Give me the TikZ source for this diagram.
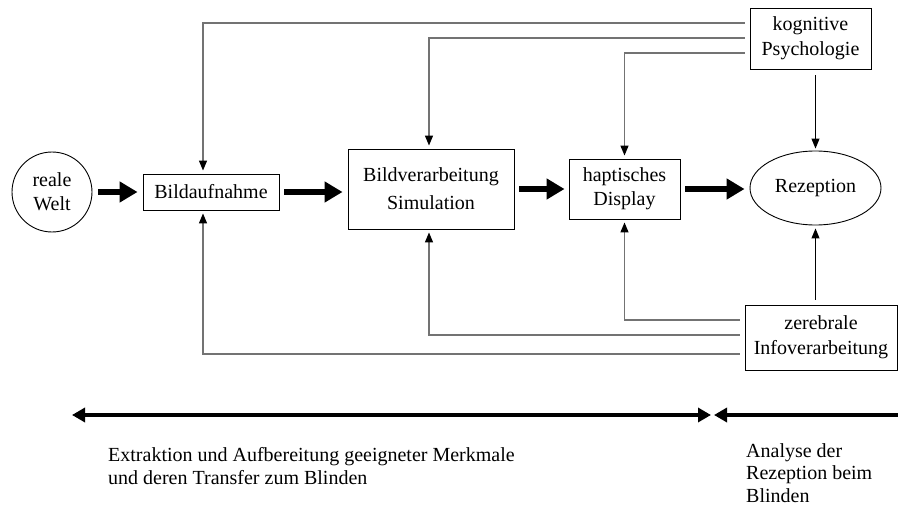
\documentclass[tikz,border=0pt]{standalone}
\usepackage{fontspec}
\setmainfont{Liberation Serif}
\usetikzlibrary{arrows.meta,shapes.geometric}
\begin{document}
\begin{tikzpicture}[x=1pt,y=-1pt,
  every node/.style={font=\fontsize{20}{24}\selectfont},
  box/.style={draw=black, line width=0.9pt, inner sep=0pt, align=center},
  fb/.style={draw=black!55, line width=1.3pt, -{Triangle[length=10pt,width=8pt,color=black]}, shorten >=3pt},
  thin/.style={draw=black, line width=1pt, -{Triangle[length=10pt,width=8pt]}},
  heavy/.style={draw=black, line width=6.5pt, -{Triangle[length=18pt,width=20pt]}},
  span/.style={draw=black, line width=3.5pt},
  caption/.style={anchor=base west, align=left, inner sep=0pt, font=\fontsize{20}{23}\selectfont}
]
\path[use as bounding box] (0,0) rectangle (898,508);

\node[draw=black, line width=0.9pt, circle, minimum size=80pt, inner sep=0pt, align=center] (welt) at (52,192) {reale\\Welt};
\node[box, minimum width=136pt, minimum height=36pt] (bild) at (211,192) {Bildaufnahme};
\node[box, minimum width=166pt, minimum height=80pt, font=\fontsize{20}{28}\selectfont] (bv) at (431,189) {Bildverarbeitung\\Simulation};
\node[box, minimum width=111pt, minimum height=60pt] (hap) at (624.5,189) {haptisches\\Display};
\node[draw=black, line width=0.9pt, ellipse, minimum width=131pt, minimum height=74pt, inner sep=0pt] (rez) at (815.5,188) {Rezeption};
\node[box, minimum width=121pt, minimum height=61pt, font=\fontsize{20}{25}\selectfont] (kog) at (810.5,38.5) {kognitive\\Psychologie};
\node[box, minimum width=152pt, minimum height=65pt, font=\fontsize{20}{25}\selectfont] (zer) at (821,337.5) {zerebrale\\Infoverarbeitung};

% main flow
\draw[heavy, shorten <=6pt, shorten >=5pt] (welt.east |- bild.west) -- (bild.west);
\draw[heavy, shorten <=5pt, shorten >=5pt] (bild.east) -- (bild.east -| bv.west);
\draw[heavy, shorten <=5pt, shorten >=4pt] (bv.east |- hap.west) -- (hap.west);
\draw[heavy, shorten <=5pt, shorten >=5pt] (hap.east) -- (hap.east -| rez.west);

% to Rezeption
\draw[thin, shorten <=6pt, shorten >=2pt] (kog.south -| rez.north) -- (rez.north);
\draw[thin, shorten <=5pt, shorten >=3pt] (zer.north -| rez.south) -- (rez.south);

% feedback from kognitive Psychologie
\draw[fb, shorten <=5pt] ([yshift=15.5pt]kog.west) -| ([xshift=-8pt]bild.north);
\draw[fb, shorten <=5pt] ([yshift=0.5pt]kog.west) -| ([xshift=-2pt]bv.north);
\draw[fb, shorten <=5pt] ([yshift=-14.5pt]kog.west) -| (hap.north);

% feedback from zerebrale Infoverarbeitung
\draw[fb, shorten <=5pt] ([yshift=17.5pt]zer.west) -| (hap.south);
\draw[fb, shorten <=5pt] ([yshift=2.5pt]zer.west) -| ([xshift=-2pt]bv.south);
\draw[fb, shorten <=5pt] ([yshift=-16.5pt]zer.west) -| ([xshift=-8pt]bild.south);

% spans
\coordinate (sL) at (72,415);
\coordinate (sM) at (711,415);
\coordinate (sM2) at (714,415);
\coordinate (sR) at (898,415);
\draw[span, {Triangle[length=13pt,width=14pt]}-{Triangle[length=13pt,width=14pt]}] (sL) -- (sM);
\draw[span, {Triangle[length=13pt,width=14pt]}-] (sM2) -- (sR);

\node[caption] (t1) at (108,484) {Extraktion und Aufbereitung geeigneter Merkmale\\und deren Transfer zum Blinden};
\node[caption, font=\fontsize{20}{22.5}\selectfont] (t2) at (746,502) {Analyse der\\Rezeption beim\\Blinden};
\end{tikzpicture}
\end{document}
